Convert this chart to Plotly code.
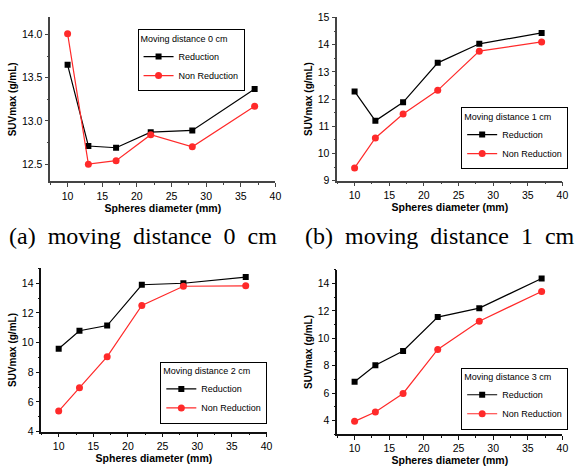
import plotly.graph_objects as go

W, H = 580, 471

diameters = [10, 13, 17, 22, 28, 37]

red_0cm = [13.65, 12.71, 12.69, 12.87, 12.89, 13.37]
nonred_0cm = [14.01, 12.50, 12.54, 12.84, 12.70, 13.17]

red_1cm = [12.28, 11.20, 11.88, 13.33, 14.03, 14.43]
nonred_1cm = [9.47, 10.57, 11.45, 12.32, 13.76, 14.10]

red_2cm = [9.58, 10.80, 11.15, 13.90, 14.00, 14.42]
nonred_2cm = [5.38, 6.95, 9.05, 12.50, 13.80, 13.83]

red_3cm = [6.82, 8.03, 9.07, 11.55, 12.20, 14.37]
nonred_3cm = [3.93, 4.62, 5.97, 9.18, 11.25, 13.42]

legend_titles = ["Moving distance 0 cm", "Moving distance 1 cm",
                 "Moving distance 2 cm", "Moving distance 3 cm"]
captions = ["(a)\u00a0 moving\u00a0 distance\u00a0 0\u00a0 cm",
            "(b)\u00a0 moving\u00a0 distance\u00a0 1\u00a0 cm"]

series = [(red_0cm, nonred_0cm), (red_1cm, nonred_1cm),
          (red_2cm, nonred_2cm), (red_3cm, nonred_3cm)]

# pixel boxes: (left, right, top, bottom)
boxes = [(50.8, 278.3, 11.6, 180.0),
         (340.8, 568.3, 11.7, 179.3),
         (41.8, 269.3, 269.3, 436.7),
         (340.8, 568.3, 270.7, 439.3)]
yranges = [[12.3, 14.2], [9, 15], [4, 15], [3, 15]]
ydticks = [0.5, 1, 2, 2]
yminor = [0.25, 0.5, 1, 1]
yfmt = [".1f", "d", "d", "d"]
axis_col = ["#444444", "#444444", "#111111", "#111111"]
legend_pos = [(139, 24), (466, 104), (162, 365), (466, 371)]

fig = go.Figure()
font = "Liberation Sans, Arial, sans-serif"

for i, (r, n) in enumerate(series):
    ax = "" if i == 0 else str(i + 1)
    lg = "legend" if i == 0 else "legend" + str(i + 1)
    fig.add_trace(go.Scatter(x=diameters, y=r, mode="lines+markers", name="Reduction",
                             line=dict(color="black", width=1.2),
                             marker=dict(symbol="square", size=6, color="black"),
                             xaxis="x" + ax, yaxis="y" + ax, legend=lg))
    fig.add_trace(go.Scatter(x=diameters, y=n, mode="lines+markers", name="Non Reduction",
                             line=dict(color="#ff2a2a", width=1.2),
                             marker=dict(symbol="circle", size=7, color="#ff2a2a"),
                             xaxis="x" + ax, yaxis="y" + ax, legend=lg))

layout = dict(width=W, height=H, margin=dict(l=0, r=0, t=0, b=0),
              paper_bgcolor="white", plot_bgcolor="white",
              font=dict(family=font, color="black", size=10))

for i in range(4):
    l, rr, t, b = boxes[i]
    ax = "" if i == 0 else str(i + 1)
    col = axis_col[i]
    layout["xaxis" + ax] = dict(
        domain=[l / W, rr / W], range=[7.5, 40], anchor="y" + ax,
        dtick=5, tick0=0, ticks="outside", ticklen=4, tickwidth=1, tickcolor=col,
        showline=True, linecolor=col, linewidth=1.5, showgrid=False, zeroline=False,
        minor=dict(dtick=2.5, tick0=0, ticks="outside", ticklen=2, tickcolor=col),
        tickfont=dict(size=10.5, family=font),
        title=dict(text="<b>Spheres diameter (mm)</b>", font=dict(size=10.5, family=font), standoff=1))
    layout["yaxis" + ax] = dict(
        domain=[1 - b / H, 1 - t / H], range=yranges[i], anchor="x" + ax,
        dtick=ydticks[i], ticks="outside", ticklen=4, tickwidth=1, tickcolor=col,
        tickformat=yfmt[i],
        showline=True, linecolor=col, linewidth=1.5, showgrid=False, zeroline=False,
        minor=dict(dtick=yminor[i], ticks="outside", ticklen=2, tickcolor=col),
        tickfont=dict(size=10.5, family=font),
        title=dict(text="<b>SUVmax (g/mL)</b>", font=dict(size=10, family=font), standoff=3))
    lx, ly = legend_pos[i]
    lg = "legend" if i == 0 else "legend" + str(i + 1)
    layout[lg] = dict(x=lx / W, y=1 - ly / H, xanchor="left", yanchor="top",
                      xref="paper", yref="paper",
                      bordercolor="black", borderwidth=1, bgcolor="white",
                      font=dict(size=9, family=font),
                      title=dict(text=legend_titles[i], font=dict(size=9, family=font)),
                      tracegroupgap=0, itemwidth=30)

fig.update_layout(**layout)

for j, cap in enumerate(captions):
    fig.add_annotation(text=cap, x=(7 if j == 0 else 306) / W, y=1 - 236 / H,
                       xref="paper", yref="paper", xanchor="left", yanchor="middle",
                       showarrow=False,
                       font=dict(family="Liberation Serif, Times New Roman, serif", size=24, color="black"))

fig.write_html("out.html")
